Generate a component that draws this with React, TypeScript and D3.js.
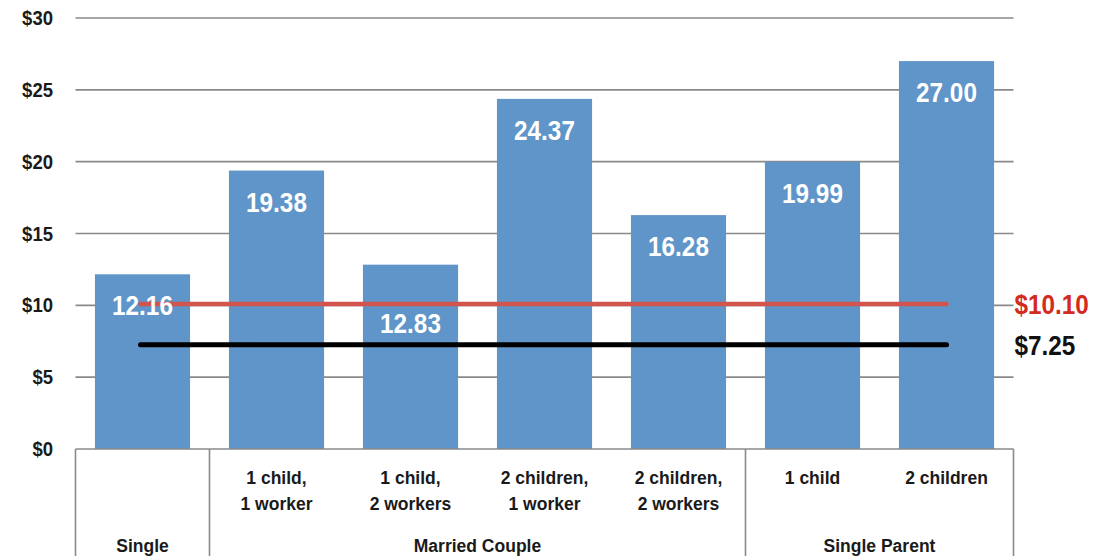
import React from "react";
import * as d3 from "d3";

const categories = [
  "Single",
  "1 child, 1 worker",
  "1 child, 2 workers",
  "2 children, 1 worker",
  "2 children, 2 workers",
  "1 child",
  "2 children",
];
const subLabels = ["", "1 child,|1 worker", "1 child,|2 workers", "2 children,|1 worker", "2 children,|2 workers", "1 child", "2 children"];
const values = [12.16, 19.38, 12.83, 24.37, 16.28, 19.99, 27.0];
const groups = [
  { name: "Single", from: 0, to: 0 },
  { name: "Married Couple", from: 1, to: 4 },
  { name: "Single Parent", from: 5, to: 6 },
];
const yTicks = [0, 5, 10, 15, 20, 25, 30];
const refLines = [
  { value: 10.1, label: "$10.10", color: "#d2554d", textColor: "#d42a20" },
  { value: 7.25, label: "$7.25", color: "#000000", textColor: "#111111" },
];

const W = 1112;
const H = 556;
const left = 75.5;
const right = 1013.5;
const top = 18;
const bottom = 449;
const FONT = "'Liberation Sans', Arial, sans-serif";

export default function App() {
  const x = d3
    .scaleBand<number>()
    .domain(d3.range(categories.length))
    .range([left, right])
    .paddingInner(0.29)
    .paddingOuter(0.145);
  const step = x.step();
  const bandStart = (i: number) => left + i * step;
  const y = d3.scaleLinear().domain([0, 30]).range([bottom, top]);
  const lineX1 = (x(0) as number) + x.bandwidth() / 2 - 2;
  const lineX2 = (x(6) as number) + x.bandwidth() / 2;
  const redY = y(refLines[0].value);

  return (
    <svg
      width={W}
      height={H}
      style={{ position: "absolute", left: 0, top: 0, background: "#fff" }}
      fontFamily={FONT}
    >
      {/* gridlines */}
      {yTicks.map((t) => (
        <g key={t}>
          {t > 0 && (
            <line x1={left} x2={right} y1={y(t)} y2={y(t)} stroke="#8a8a8a" strokeWidth={1.6} />
          )}
          <text
            transform={`translate(53,${y(t) + 7}) scale(0.95,1)`}
            textAnchor="end"
            fontSize={19.5}
            fontWeight="bold"
            fill="#1a1a1a"
          >
            {"$" + t}
          </text>
        </g>
      ))}
      {/* bars */}
      {values.map((v, i) => (
        <rect
          key={i}
          x={x(i)}
          y={y(v)}
          width={x.bandwidth()}
          height={bottom - y(v)}
          fill="#5f95c8"
        />
      ))}
      {/* reference lines */}
      {refLines.map((r) => (
        <line
          key={r.label}
          x1={lineX1}
          x2={lineX2}
          y1={y(r.value)}
          y2={y(r.value)}
          stroke={r.color}
          strokeWidth={r.color === "#000000" ? 5 : 4.5}
          strokeLinecap="round"
        />
      ))}
      {/* value labels */}
      {values.map((v, i) => {
        let ly = y(v) + 41;
        if (i === 2) ly = redY + 29;
        return (
          <text
            key={i}
            transform={`translate(${(x(i) as number) + x.bandwidth() / 2},${ly}) scale(0.9,1)`}
            textAnchor="middle"
            fontSize={27}
            fontWeight="bold"
            fill="#ffffff"
          >
            {v.toFixed(2)}
          </text>
        );
      })}
      {/* reference labels */}
      {refLines.map((r) => (
        <text
          key={r.label}
          transform={`translate(${right + 1},${y(r.value) + 10}) scale(0.9,1)`}
          fontSize={27}
          fontWeight="bold"
          fill={r.textColor}
        >
          {r.label}
        </text>
      ))}
      {/* bottom table */}
      <line x1={left} x2={right} y1={bottom} y2={bottom} stroke="#8a8a8a" strokeWidth={1.6} />
      {[0, 1, 5, 7].map((k) => (
        <line
          key={k}
          x1={bandStart(k)}
          x2={bandStart(k)}
          y1={bottom}
          y2={H}
          stroke="#8a8a8a"
          strokeWidth={1.6}
        />
      ))}
      {subLabels.map((s, i) =>
        s
          ? s.split("|").map((ln, j) => (
              <text
                key={i + "-" + j}
                x={(x(i) as number) + x.bandwidth() / 2}
                y={484 + j * 26}
                textAnchor="middle"
                fontSize={17.5}
                fontWeight="bold"
                fill="#1a1a1a"
              >
                {ln}
              </text>
            ))
          : null
      )}
      {groups.map((g) => (
        <text
          key={g.name}
          x={(bandStart(g.from) + bandStart(g.to + 1)) / 2}
          y={552}
          textAnchor="middle"
          fontSize={17.5}
          fontWeight="bold"
          fill="#1a1a1a"
        >
          {g.name}
        </text>
      ))}
    </svg>
  );
}
